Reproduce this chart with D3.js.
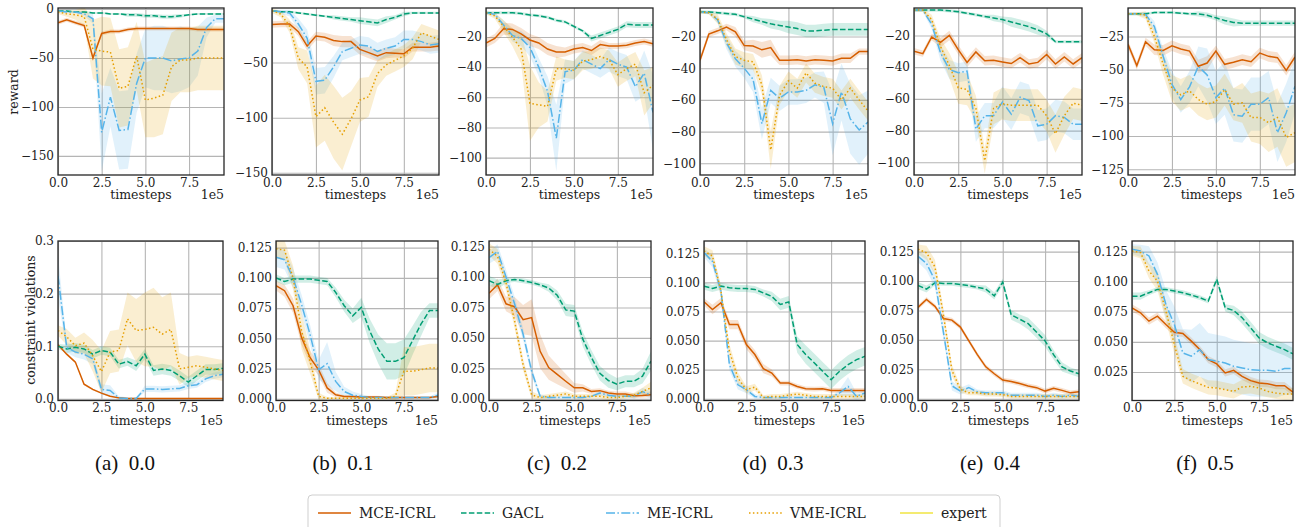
<html>
<head>
<meta charset="utf-8">
<title>ICRL curves</title>
<script src="https://d3js.org/d3.v7.min.js"></script>
<style>
  body { margin:0; background:#fff; }
  .tick text { font-family:"DejaVu Serif", serif; font-size:12px; fill:#222; }
  .grid line { stroke:#b5b5b5; stroke-width:1.1; }
  .lab { font-family:"DejaVu Serif", serif; font-size:12.5px; fill:#222; }
  .cap { font-family:"Liberation Serif", "Times New Roman", serif; font-size:21px; fill:#111; }
  .leg { font-family:"DejaVu Serif", serif; font-size:14px; fill:#222; }
</style>
</head>
<body>
<script>
/* ---------- data ---------- */
var steps = [0,0.5,1,1.5,2,2.5,3,3.5,4,4.5,5,5.5,6,6.5,7,7.5,8,8.5,9,9.5];
var captions = ["(a)","(b)","(c)","(d)","(e)","(f)"];
var variants = ["0.0","0.1","0.2","0.3","0.4","0.5"];
var seriesNames = ["MCE-ICRL","GACL","ME-ICRL","VME-ICRL","expert"];
var rewardTicks = [[0,-50,-100,-150],[-50,-100,-150],[-20,-40,-60,-80,-100],[-20,-40,-60,-80,-100],[-20,-40,-60,-80,-100],[-25,-50,-75,-100,-125]];
var cvTicks = [[0,0.1,0.2,0.3],[0,0.025,0.05,0.075,0.1,0.125],[0,0.025,0.05,0.075,0.1,0.125],[0,0.025,0.05,0.075,0.1,0.125],[0,0.025,0.05,0.075,0.1,0.125],[0.025,0.05,0.075,0.1,0.125]];
var xTicks = [0,2.5,5,7.5];

// reward, mean per variant
var rewardMCE = [
 [-14,-11,-14,-17,-50,-25,-23,-23,-21,-20,-20,-20,-20,-20,-20,-20,-21,-21,-21,-21],
 [-15.5,-15,-15,-22,-35,-26,-27,-30,-31,-31,-38,-41,-44,-41,-41.5,-42,-36,-36,-36,-35],
 [-24,-21,-14.5,-15,-18,-22,-24,-28,-30,-30,-28,-27,-29,-25,-26,-26,-25.5,-24,-23,-24.5],
 [-35,-18.5,-16.4,-14,-17,-25.7,-26,-28.4,-27,-35,-35,-34.7,-35.4,-34.7,-35,-35.5,-33.7,-33.7,-29.5,-29.5],
 [-30,-31.5,-21,-24.4,-20,-29,-37,-30.4,-36,-35.6,-36.7,-37.7,-34,-38,-37,-32,-38,-33.5,-38,-34],
 [-31,-47,-29,-35,-35.5,-32,-34.5,-36,-47.5,-45,-36,-46,-44.5,-42.5,-44,-37.5,-40,-41,-50.5,-40.5]
];
var rewardGACL = [
 [-2,-2,-3,-3,-4,-4,-5,-5,-6,-6,-7,-7,-8,-8,-7,-6,-5,-5,-5,-5],
 [-3,-4,-4,-5,-6,-7,-8,-9,-10,-11,-12,-13,-14,-11,-9,-6,-5,-5,-5,-5],
 [-4,-4,-4,-4,-4.5,-5.5,-6,-7,-9,-10,-13,-16,-21,-19,-17,-15,-11.6,-12,-12,-12],
 [-4.5,-4.5,-5,-5.5,-6,-7.5,-9,-10.5,-12,-13,-14,-15,-16.5,-16.5,-16,-15.5,-15.5,-15.5,-15.5,-15.5],
 [-4,-4,-4,-4,-4.5,-5,-6,-7,-8,-9,-10,-11.5,-13,-14.5,-16.5,-19,-24,-24,-24,-24],
 [-8,-8,-8,-7,-7,-7,-7.5,-8,-8,-9,-11,-13,-14.5,-15,-15,-15,-15,-15,-15,-15]
];
var rewardME = [
 [-2,-3,-3,-5,-10,-126,-90,-124,-123,-76,-50,-50,-50,-53,-51,-50,-43,-19,-10,-10],
 [-3,-4,-5,-15,-28,-67,-66,-54,-40,-37,-34,-35,-40,-37,-35,-29,-29,-31,-34,-33],
 [-4,-5,-12,-19,-21,-27,-40,-56,-87,-43,-42,-35,-38,-41,-35,-38,-40,-53,-44,-70],
 [-4.5,-5,-9.5,-24,-34,-40,-47,-75,-54,-59,-55,-55,-54,-50.5,-52,-75,-55,-72,-79,-74],
 [-4,-4,-13,-31,-41.5,-43.5,-42.5,-79,-70.6,-70.6,-62,-69.6,-59,-61,-77,-76,-70.6,-71.7,-76,-76],
 [-8,-8,-8.5,-17.5,-40,-61,-72.5,-63,-47.5,-54,-71,-64,-84,-85,-76,-76,-71,-97.5,-82.5,-62.5]
];
var rewardVME = [
 [-3,-5,-6,-8,-41,-43,-44,-81,-79,-48,-93,-91,-88,-59,-52,-52,-50,-50,-50,-50],
 [-3,-6,-17,-46,-54,-99,-91,-104,-115,-101,-84,-81,-60,-52,-48,-44,-37,-23,-26,-29],
 [-4,-6,-13,-20,-28,-64,-65,-66,-41,-41,-42,-36,-35,-33,-35,-45,-41,-38,-57,-52],
 [-4.5,-5,-9,-22,-32.6,-35,-36,-50.5,-91.6,-57,-48,-52.6,-43,-49.5,-51.6,-52.6,-60,-52.6,-60,-67],
 [-4,-4,-10,-27,-39,-53,-54,-66,-99,-66,-63,-64,-64,-64,-64,-70.6,-82,-70.6,-62.7,-64],
 [-8,-8,-9,-25,-46,-64,-69,-66,-72.5,-76,-74,-65,-76,-75,-86,-86,-90,-86,-101,-97.5]
];
// reward, half width of shaded band
var rewardMCEband = [
 [2,2,2,2,3,2,2,2,2,2,2,2,2,2,2,2,2,2,2,2],
 [3,3,3,4,4,4,4,5,5,5,5,5,5,5,4,4,4,4,4,4],
 [3,3,4,4,4,4,4,4,4,3,3,3,3,3,2,2,2,2,2,2],
 [2,2,2,2,3,3,4,5,5,3,3,3,3,3,3,3,3,3,2,2],
 [2,2,2,3,3,3,3,3,3,3,3,3,3,3,3,3,3,3,3,3],
 [3,3,3,4,4,4,4,4,5,5,4,4,4,4,4,4,4,4,4,4]
];
var rewardGACLband = [
 [1,1,1,1,1,1,1,1,2,2,2,2,2,2,2,1,1,1,1,1],
 [1,1,1,1,1,1,1,2,2,2,3,3,3,3,2,2,1,1,1,1],
 [1,1,1,1,1,1,1,1,1,1,1,1,2,2,2,2,2,2,2,2],
 [1,1,1,1,1,1,2,2,3,3,4,4,4,4,4,4,4,4,4,4],
 [1,1,1,1,1,1,1,1,1,2,2,3,3,3,3,2,1,1,1,1],
 [1,1,1,1,1,1,1,1,2,2,2,3,3,2,2,2,2,2,2,2]
];
var rewardMEband = [
 [1,1,1,2,5,40,30,40,40,30,30,33,33,33,33,30,25,10,4,4],
 [1,2,3,5,8,12,12,10,8,8,8,8,8,8,8,8,8,8,8,8],
 [1,1,3,4,5,6,6,10,22,8,6,6,6,6,8,8,8,10,15,25],
 [1,1,2,4,5,6,8,10,8,8,8,8,8,8,10,20,18,22,22,20],
 [1,1,3,5,6,6,6,8,8,8,10,10,10,10,10,10,10,10,10,10],
 [1,1,2,4,6,10,10,12,15,20,20,20,20,20,20,20,20,22,22,20]
];
var rewardVMEband = [
 [2,3,5,10,30,35,35,40,40,35,38,40,40,35,33,33,33,33,33,33],
 [2,3,6,10,15,28,30,33,33,25,20,18,12,10,10,10,10,8,8,8],
 [1,2,4,6,10,25,15,10,8,6,6,6,6,6,6,8,8,8,15,12],
 [1,1,3,4,5,5,5,6,12,6,6,6,6,6,6,6,6,6,6,6],
 [1,1,3,5,8,10,10,8,8,10,10,10,10,10,10,10,12,12,10,10],
 [1,1,3,5,8,10,12,12,12,12,12,12,12,15,18,20,22,22,22,22]
];

// constraint violations, mean per variant
var cvMCE = [
 [0.103,0.085,0.07,0.028,0.018,0.011,0.005,0.002,0.001,0.001,0.001,0.001,0.001,0.001,0.001,0.001,0.001,0.001,0.001,0.001],
 [0.0936,0.0894,0.077,0.0506,0.034,0.024,0.009,0.0033,0.002,0.002,0.0015,0.0015,0.0015,0.001,0.001,0.001,0.001,0.001,0.001,0.002],
 [0.0867,0.0936,0.078,0.0756,0.065,0.0667,0.039,0.0256,0.02,0.0144,0.009,0.009,0.006,0.0067,0.0047,0.004,0.004,0.0025,0.0028,0.0033],
 [0.0833,0.0767,0.0825,0.0638,0.0638,0.0466,0.038,0.0259,0.0221,0.0135,0.0135,0.0106,0.0086,0.0083,0.0086,0.0072,0.0072,0.0072,0.0072,0.0072],
 [0.0776,0.0844,0.0785,0.0682,0.0668,0.0609,0.0491,0.0374,0.0271,0.0212,0.0159,0.0147,0.0129,0.0109,0.0094,0.0065,0.0088,0.0071,0.005,0.0059],
 [0.0783,0.0742,0.0672,0.0714,0.0644,0.058,0.057,0.0506,0.0436,0.0353,0.0317,0.0242,0.0264,0.0214,0.0178,0.0158,0.0153,0.0136,0.0136,0.0083]
];
var cvGACL = [
 [0.1,0.095,0.098,0.095,0.085,0.092,0.089,0.066,0.071,0.063,0.085,0.054,0.057,0.054,0.044,0.032,0.044,0.056,0.056,0.058],
 [0.1,0.097,0.099,0.099,0.099,0.098,0.097,0.088,0.077,0.0686,0.0756,0.056,0.041,0.031,0.031,0.034,0.048,0.0617,0.073,0.073],
 [0.097,0.094,0.097,0.098,0.097,0.0956,0.0936,0.091,0.085,0.073,0.072,0.049,0.034,0.021,0.015,0.012,0.0144,0.0144,0.0186,0.031],
 [0.0968,0.0948,0.0968,0.0954,0.0948,0.0948,0.094,0.091,0.088,0.081,0.0833,0.0466,0.038,0.031,0.0236,0.0164,0.0236,0.0293,0.0336,0.0365],
 [0.0962,0.0932,0.0985,0.098,0.098,0.097,0.096,0.0947,0.0932,0.0874,0.0991,0.0712,0.0676,0.0638,0.0565,0.0491,0.0374,0.0271,0.0235,0.0212],
 [0.088,0.088,0.0908,0.0936,0.0936,0.0922,0.0908,0.0889,0.0867,0.0839,0.1019,0.0783,0.0761,0.07,0.0617,0.0533,0.0492,0.0464,0.0436,0.04]
];
var cvME = [
 [0.234,0.098,0.089,0.085,0.076,0.018,0.016,0.002,0.001,0.001,0.019,0.019,0.018,0.019,0.02,0.025,0.027,0.038,0.044,0.047],
 [0.117,0.115,0.1,0.078,0.053,0.024,0.029,0.0144,0.006,0.003,0.002,0.001,0.001,0.001,0.001,0.001,0.001,0.001,0.001,0.003],
 [0.116,0.121,0.1,0.078,0.053,0.0228,0.002,0.001,0.001,0.001,0.001,0.001,0.002,0.0047,0.003,0.002,0.002,0.002,0.006,0.003],
 [0.1256,0.118,0.0925,0.0293,0.012,0.0078,0.002,0.001,0.001,0.001,0.001,0.001,0.001,0.001,0.001,0.001,0.005,0.0106,0.002,0.005],
 [0.121,0.115,0.1006,0.0565,0.011,0.0065,0.0094,0.0059,0.005,0.005,0.005,0.003,0.003,0.003,0.003,0.002,0.003,0.002,0.003,0.002],
 [0.127,0.1256,0.1214,0.1061,0.0811,0.0644,0.0408,0.0381,0.0436,0.0353,0.0339,0.0325,0.0297,0.0283,0.0269,0.0264,0.0264,0.0256,0.0278,0.0278]
];
var cvVME = [
 [0.13,0.118,0.101,0.106,0.082,0.052,0.089,0.092,0.152,0.13,0.132,0.136,0.123,0.132,0.057,0.06,0.063,0.06,0.057,0.054],
 [0.124,0.123,0.1,0.056,0.031,0.002,0.0005,0.0005,0.0005,0.0005,0.0005,0.0005,0.0005,0.0005,0.002,0.0228,0.0228,0.024,0.0255,0.0255],
 [0.1228,0.117,0.095,0.064,0.028,0.0033,0.001,0.002,0.003,0.004,0.002,0.002,0.002,0.002,0.001,0.001,0.002,0.003,0.006,0.009],
 [0.127,0.1227,0.0925,0.0408,0.0178,0.0078,0.01,0.001,0.002,0.002,0.003,0.004,0.003,0.002,0.002,0.002,0.002,0.002,0.002,0.002],
 [0.127,0.124,0.112,0.0712,0.0241,0.008,0.005,0.005,0.004,0.004,0.0035,0.002,0.002,0.002,0.002,0.002,0.002,0.002,0.002,0.002],
 [0.1256,0.1242,0.1089,0.1006,0.0756,0.0478,0.0214,0.0178,0.015,0.0122,0.0117,0.0103,0.0089,0.0125,0.0131,0.0117,0.0089,0.0075,0.0067,0.0067]
];
// constraint violations, half width of shaded band
var cvMCEband = [
 [0.002,0.002,0.002,0.002,0.002,0.001,0.001,0.001,0.001,0.001,0.001,0.001,0.001,0.001,0.001,0.001,0.001,0.001,0.001,0.001],
 [0.004,0.005,0.006,0.006,0.006,0.005,0.004,0.002,0.001,0.001,0.001,0.001,0.001,0.001,0.001,0.001,0.001,0.001,0.001,0.001],
 [0.005,0.005,0.006,0.008,0.012,0.015,0.014,0.01,0.008,0.006,0.004,0.003,0.002,0.002,0.002,0.002,0.002,0.002,0.002,0.002],
 [0.003,0.004,0.004,0.004,0.004,0.004,0.004,0.004,0.003,0.002,0.002,0.002,0.002,0.002,0.002,0.002,0.002,0.002,0.002,0.002],
 [0.002,0.002,0.002,0.002,0.002,0.002,0.002,0.002,0.002,0.002,0.002,0.002,0.002,0.002,0.002,0.002,0.002,0.002,0.002,0.002],
 [0.003,0.003,0.003,0.003,0.003,0.003,0.003,0.003,0.003,0.003,0.003,0.003,0.003,0.003,0.003,0.003,0.003,0.003,0.003,0.003]
];
var cvGACLband = [
 [0.005,0.008,0.008,0.008,0.008,0.008,0.008,0.008,0.008,0.01,0.01,0.01,0.01,0.01,0.01,0.01,0.01,0.01,0.01,0.01],
 [0.003,0.003,0.003,0.003,0.003,0.003,0.003,0.004,0.005,0.006,0.008,0.01,0.012,0.015,0.015,0.015,0.012,0.01,0.006,0.006],
 [0.004,0.004,0.002,0.002,0.002,0.002,0.002,0.003,0.004,0.005,0.005,0.006,0.006,0.006,0.006,0.005,0.005,0.005,0.006,0.008],
 [0.003,0.003,0.003,0.003,0.003,0.003,0.003,0.003,0.004,0.005,0.005,0.007,0.008,0.008,0.008,0.008,0.008,0.008,0.008,0.008],
 [0.003,0.003,0.002,0.002,0.002,0.002,0.002,0.002,0.003,0.003,0.003,0.004,0.004,0.005,0.005,0.005,0.004,0.004,0.003,0.003],
 [0.003,0.003,0.002,0.002,0.002,0.002,0.002,0.002,0.002,0.002,0.003,0.003,0.004,0.005,0.005,0.005,0.005,0.005,0.005,0.005]
];
var cvMEband = [
 [0.04,0.01,0.01,0.01,0.01,0.01,0.01,0.003,0.002,0.002,0.006,0.006,0.006,0.006,0.006,0.006,0.006,0.006,0.006,0.006],
 [0.008,0.008,0.008,0.008,0.008,0.008,0.018,0.008,0.004,0.003,0.002,0.001,0.001,0.001,0.001,0.001,0.001,0.001,0.001,0.002],
 [0.005,0.006,0.006,0.006,0.005,0.004,0.002,0.001,0.001,0.001,0.001,0.001,0.001,0.002,0.002,0.001,0.001,0.002,0.003,0.003],
 [0.004,0.005,0.005,0.005,0.004,0.003,0.002,0.001,0.001,0.001,0.001,0.001,0.001,0.001,0.001,0.001,0.003,0.008,0.003,0.003],
 [0.005,0.006,0.006,0.006,0.004,0.003,0.003,0.002,0.002,0.002,0.002,0.002,0.002,0.002,0.002,0.002,0.002,0.002,0.002,0.002],
 [0.004,0.005,0.008,0.01,0.012,0.015,0.02,0.022,0.022,0.022,0.022,0.022,0.022,0.022,0.022,0.022,0.022,0.022,0.022,0.022]
];
var cvVMEband = [
 [0.01,0.015,0.015,0.02,0.03,0.04,0.04,0.04,0.05,0.06,0.07,0.075,0.07,0.07,0.03,0.02,0.02,0.02,0.02,0.02],
 [0.008,0.008,0.01,0.015,0.01,0.003,0.001,0.001,0.001,0.001,0.001,0.001,0.001,0.001,0.003,0.02,0.02,0.02,0.02,0.02],
 [0.005,0.006,0.006,0.006,0.005,0.003,0.002,0.002,0.002,0.002,0.002,0.002,0.002,0.002,0.002,0.002,0.002,0.002,0.003,0.005],
 [0.004,0.005,0.005,0.006,0.005,0.003,0.003,0.002,0.002,0.002,0.002,0.002,0.002,0.002,0.002,0.002,0.002,0.002,0.002,0.002],
 [0.004,0.006,0.006,0.006,0.005,0.003,0.002,0.002,0.002,0.002,0.002,0.002,0.002,0.002,0.002,0.002,0.002,0.002,0.002,0.002],
 [0.004,0.005,0.006,0.008,0.008,0.008,0.006,0.006,0.006,0.006,0.006,0.006,0.006,0.006,0.006,0.006,0.005,0.005,0.005,0.005]
];

/* ---------- layout ---------- */
var width = 1307, height = 527;
var colors = ["#d55e00","#009e73","#56b4e9","#e69f00","#f0e442"];
var dashes = [null,"5.5,2.4","9,2.4,1.5,2.4","1.5,2.4",null];
var topBoxes = [[58,224],[272,439],[486,653],[700,868],[914,1082],[1128,1295]];
var botBoxes = [[58,223],[276,438],[489,651],[704,865],[918,1079],[1132,1293]];
var rewardDomains = [[-169.5,1],[-152,-0.5],[-111.5,-0.8],[-107.4,-2],[-108,-2.7],[-129.3,-3.6]];
var cvDomains = [[-0.003,0.3],[-0.0014,0.1305],[-0.0014,0.1296],[-0.0015,0.1356],[-0.0015,0.134],[0.0013,0.1338]];
var capX = [125,343,557,773,990,1205];

var svg = d3.select("body").append("svg")
  .attr("width", width).attr("height", height);

function panel(idx, box, top, bottom, domain, ticks, fmt, means, bands, row){
  var x = d3.scaleLinear().domain([0,9.5]).range(box);
  var y = d3.scaleLinear().domain(domain).range([bottom, top]);
  var g = svg.append("g");
  var cid = "clip" + row + idx;
  g.append("clipPath").attr("id", cid).append("rect")
    .attr("x", box[0]).attr("y", top).attr("width", box[1]-box[0]).attr("height", bottom-top);

  // grid + tick labels
  var ya = d3.axisLeft(y).tickValues(ticks).tickSize(-(box[1]-box[0])).tickPadding(4).tickFormat(fmt);
  g.append("g").attr("class","grid").attr("transform","translate("+box[0]+",0)").call(ya)
    .call(function(s){ s.select(".domain").remove(); });
  var xa = d3.axisBottom(x).tickValues(xTicks).tickSize(-(bottom-top)).tickPadding(3).tickFormat(d3.format(".1f"));
  g.append("g").attr("class","grid").attr("transform","translate(0,"+bottom+")").call(xa)
    .call(function(s){ s.select(".domain").remove(); });

  var plot = g.append("g").attr("clip-path","url(#"+cid+")");
  var area = d3.area().x(function(d){ return x(d[0]); })
    .y0(function(d){ return y(d[1]-d[2]); }).y1(function(d){ return y(d[1]+d[2]); });
  var line = d3.line().x(function(d){ return x(d[0]); }).y(function(d){ return y(d[1]); });

  for (var s = 0; s < 4; s++){
    var pts = steps.map(function(t,i){ return [t, means[s][idx][i], bands[s][idx][i]]; });
    plot.append("path").attr("d", area(pts)).attr("fill", colors[s]).attr("fill-opacity", 0.18);
  }
  for (var s = 0; s < 4; s++){
    var pts = steps.map(function(t,i){ return [t, means[s][idx][i]]; });
    plot.append("path").attr("d", line(pts)).attr("fill","none")
      .attr("stroke", colors[s]).attr("stroke-width", 1.5)
      .attr("stroke-dasharray", dashes[s]);
  }

  g.append("rect").attr("x", box[0]).attr("y", top).attr("width", box[1]-box[0]).attr("height", bottom-top)
    .attr("fill","none").attr("stroke","#262626").attr("stroke-width",1.3);

  g.append("text").attr("class","lab").attr("x",(box[0]+box[1])/2).attr("y",bottom+24)
    .attr("text-anchor","middle").text("timesteps");
  g.append("text").attr("class","lab").attr("x",box[1]).attr("y",bottom+24)
    .attr("text-anchor","end").text("1e5");
}

var minusFmt = function(d){ return d3.format("d")(d).replace("-", "\u2212"); };
for (var i = 0; i < 6; i++){
  panel(i, topBoxes[i], 8, 175, rewardDomains[i], rewardTicks[i], minusFmt,
        [rewardMCE, rewardGACL, rewardME, rewardVME],
        [rewardMCEband, rewardGACLband, rewardMEband, rewardVMEband], "t");
  panel(i, botBoxes[i], 241, 400.5, cvDomains[i], cvTicks[i], d3.format(i == 0 ? ".1f" : ".3f"),
        [cvMCE, cvGACL, cvME, cvVME],
        [cvMCEband, cvGACLband, cvMEband, cvVMEband], "b");
  svg.append("text").attr("class","cap")
    .attr("x", capX[i]).attr("y", 470)
    .attr("text-anchor","middle").text(captions[i] + "\u2002" + variants[i]);
}

svg.append("text").attr("class","lab").attr("transform","translate(18,92) rotate(-90)")
  .attr("text-anchor","middle").text("reward");
svg.append("text").attr("class","lab").attr("transform","translate(35,320) rotate(-90)")
  .attr("text-anchor","middle").text("constraint violations");

// legend
var legX = [318,461,606,749,900];
var leg = svg.append("g");
leg.append("rect").attr("x",308).attr("y",495).attr("width",692).attr("height",40).attr("rx",4)
  .attr("fill","#fff").attr("stroke","#cfcfcf").attr("stroke-width",1);
seriesNames.forEach(function(n,i){
  leg.append("line").attr("x1",legX[i]).attr("x2",legX[i]+33).attr("y1",513).attr("y2",513)
    .attr("stroke",colors[i]).attr("stroke-width",1.5).attr("stroke-dasharray",dashes[i]);
  leg.append("text").attr("class","leg").attr("x",legX[i]+41).attr("y",518).text(n);
});
</script>
</body>
</html>
